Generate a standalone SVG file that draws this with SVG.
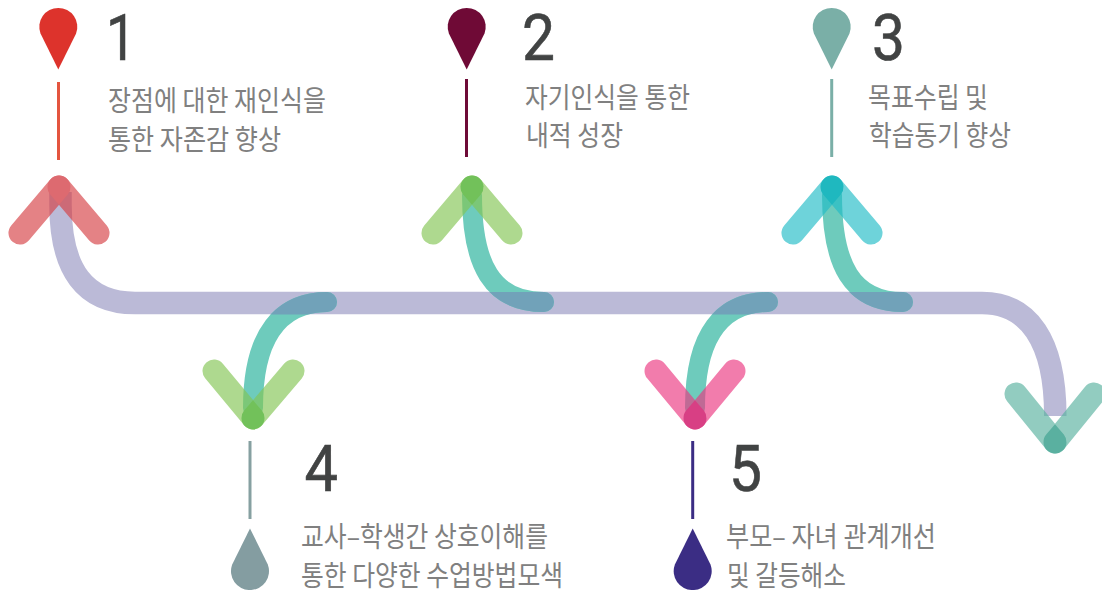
<svg xmlns="http://www.w3.org/2000/svg" width="1102" height="590" viewBox="0 0 1102 590">
<style>
.num{font-family:Roboto,"Liberation Sans",sans-serif;font-size:65px;font-weight:400;fill:#414343;stroke:#414343;stroke-width:.6}
.lbl{font-family:"Noto Sans CJK KR","Noto Sans",sans-serif;font-size:28px;font-weight:400;fill:#808080}
.arm{fill:none;stroke-width:23;stroke-linecap:round;stroke-opacity:.65}
.teal{fill:none;stroke:#6ecbbc;stroke-width:20;stroke-linecap:round}
.tealo{fill:none;stroke:#71a2b9;stroke-width:20;stroke-linecap:round;clip-path:url(#band)}
.tip{stroke-width:3;fill:none}
</style>
<defs>
<clipPath id="band"><rect x="0" y="292" width="1102" height="22.5"/></clipPath>
<path id="t1" d="M472 195C472 265 492 302 544 302"/>
<path id="t2" d="M832 195C832 265 852 302 903 302"/>
<path id="t3" d="M327 302C283 302 253 332 253 408"/>
<path id="t4" d="M768 302C724 302 695 332 695 408"/>
</defs>
<rect width="1102" height="590" fill="#fff"/>
<g id="connectors">
<path d="M60.5 192V205C60.5 270 85 303 135 303H982C1028 303 1055.3 340 1055.3 416" fill="none" stroke="#bbbad7" stroke-width="22.5"/>
<use href="#t1" class="teal"/><use href="#t2" class="teal"/><use href="#t3" class="teal"/><use href="#t4" class="teal"/>
<use href="#t1" class="tealo"/><use href="#t2" class="tealo"/><use href="#t3" class="tealo"/><use href="#t4" class="tealo"/>
<path d="M20 233L59 187M98 233L59 187" class="arm" stroke="#d53f43"/>
<path d="M50.2 194.4L59 204.8L67.8 194.4A11.5 11.5 0 1 0 50.2 194.4Z" fill="#dd6a70"/>
<path d="M433 233L472 187M511 233L472 187" class="arm" stroke="#82c553"/>
<path d="M463.2 194.4L472 204.8L480.8 194.4A11.5 11.5 0 1 0 463.2 194.4Z" fill="#72c15a"/>
<path d="M793 233L832 187M871 233L832 187" class="arm" stroke="#21bbc6"/>
<path d="M823.2 194.4L832 204.8L840.8 194.4A11.5 11.5 0 1 0 823.2 194.4Z" fill="#1fb8bf"/>
<path d="M214 371L253 418M293 371L253 418" class="arm" stroke="#82c553"/>
<path d="M244.2 410.6L253 400.2L261.8 410.6A11.5 11.5 0 1 1 244.2 410.6Z" fill="#72c15a"/>
<path d="M656 371L695 418M734 371L695 418" class="arm" stroke="#eb357f"/>
<path d="M686.2 410.6L695 400.2L703.8 410.6A11.5 11.5 0 1 1 686.2 410.6Z" fill="#d83f84"/>
<path d="M1016 394L1055 442M1094 394L1055 442" class="arm" stroke="#57b19e"/>
<path d="M1046.2 434.6L1055 424.2L1063.8 434.6A11.5 11.5 0 1 1 1046.2 434.6Z" fill="#5ab0a0"/>
</g>
<g id="node1">
<path d="M58.3 69.5L40.5 33.6A19 19 0 1 1 76.1 33.6Z" fill="#dd332c"/>
<line class="tip" x1="58.5" y1="82" x2="58.5" y2="160" stroke="#e4553f"/>
<text class="num" x="106" y="60" textLength="30" lengthAdjust="spacingAndGlyphs">1</text>
<text class="lbl" x="108" y="111" textLength="218" lengthAdjust="spacingAndGlyphs">장점에 대한 재인식을</text>
<text class="lbl" x="108" y="150" textLength="173" lengthAdjust="spacingAndGlyphs">통한 자존감 향상</text>
</g>
<g id="node2">
<path d="M466.7 69.5L448.9 33.6A19 19 0 1 1 484.5 33.6Z" fill="#6f0a36"/>
<line class="tip" x1="466.5" y1="79" x2="466.5" y2="157" stroke="#6e0b37"/>
<text class="num" x="522" y="60" textLength="33" lengthAdjust="spacingAndGlyphs">2</text>
<text class="lbl" x="525" y="108" textLength="165" lengthAdjust="spacingAndGlyphs">자기인식을 통한</text>
<text class="lbl" x="526" y="146" textLength="97" lengthAdjust="spacingAndGlyphs">내적 성장</text>
</g>
<g id="node3">
<path d="M831.7 69.5L813.9 33.6A19 19 0 1 1 849.5 33.6Z" fill="#7aafa7"/>
<line class="tip" x1="831.7" y1="79" x2="831.7" y2="157" stroke="#7aafa7"/>
<text class="num" x="872" y="60" textLength="33" lengthAdjust="spacingAndGlyphs">3</text>
<text class="lbl" x="868" y="108" textLength="120" lengthAdjust="spacingAndGlyphs">목표수립 및</text>
<text class="lbl" x="869" y="146" textLength="142" lengthAdjust="spacingAndGlyphs">학습동기 향상</text>
</g>
<g id="node4">
<path d="M250 528.5L232.2 564.4A19 19 0 1 0 267.8 564.4Z" fill="#849da1"/>
<line class="tip" x1="250" y1="441" x2="250" y2="519" stroke="#86a0a1"/>
<text class="num" x="304.5" y="491" textLength="33.5" lengthAdjust="spacingAndGlyphs">4</text>
<text class="lbl" x="301" y="546.5" textLength="247" lengthAdjust="spacingAndGlyphs">교사–학생간 상호이해를</text>
<text class="lbl" x="301" y="585.5" textLength="262" lengthAdjust="spacingAndGlyphs">통한 다양한 수업방법모색</text>
</g>
<g id="node5">
<path d="M692.7 528.5L674.9 564.4A19 19 0 1 0 710.5 564.4Z" fill="#3b2d84"/>
<line class="tip" x1="692.7" y1="441" x2="692.7" y2="519" stroke="#3b2d84"/>
<text class="num" x="729" y="491" textLength="33" lengthAdjust="spacingAndGlyphs">5</text>
<text class="lbl" x="726" y="546.5" textLength="210" lengthAdjust="spacingAndGlyphs">부모– 자녀 관계개선</text>
<text class="lbl" x="727" y="585.5" textLength="119" lengthAdjust="spacingAndGlyphs">및 갈등해소</text>
</g>
</svg>
